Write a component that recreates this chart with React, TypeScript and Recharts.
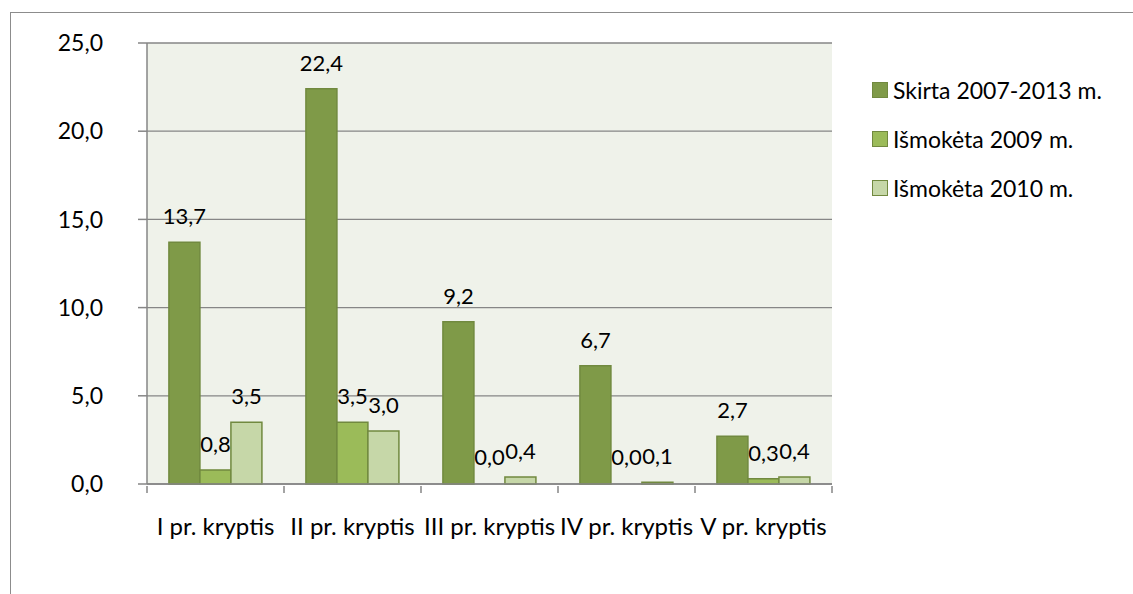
import { BarChart, Bar, XAxis, YAxis, CartesianGrid, LabelList, Rectangle } from "recharts";

const categories = ["I pr. kryptis", "II pr. kryptis", "III pr. kryptis", "IV pr. kryptis", "V pr. kryptis"];
const skirta = [13.7, 22.4, 9.2, 6.7, 2.7];
const ismoketa2009 = [0.8, 3.5, 0.0, 0.0, 0.3];
const ismoketa2010 = [3.5, 3.0, 0.4, 0.1, 0.4];
const yTicks = [0, 5, 10, 15, 20, 25];

const seriesNames = ["Skirta 2007-2013 m.", "Išmokėta 2009 m.", "Išmokėta 2010 m."];
const seriesKeys = ["skirta", "m2009", "m2010"];
const fills = ["#7f9a48", "#9bbb59", "#c6d7a8"];
const strokes = ["#71893f", "#71893f", "#71893f"];

const data = categories.map((name, i) => ({
  name,
  skirta: skirta[i],
  m2009: ismoketa2009[i],
  m2010: ismoketa2010[i],
}));

const FONT = "Lato, 'Open Sans', sans-serif";
const fmt = (v: any) => Number(v).toFixed(1).replace(".", ",");

// zero values get a label but no visible bar
const zeroAwareShape = (key: string) => (props: any) =>
  props.payload && props.payload[key] === 0 ? <g /> : <Rectangle {...props} />;

function XTick(props: any) {
  const { x, y, payload, index, visibleTicksCount } = props;
  const half = payload?.offset ?? 68.5;
  const last = index === (visibleTicksCount ?? categories.length) - 1;
  return (
    <g>
      <line x1={x - half} x2={x - half} y1={y} y2={y + 7} stroke="#868686" strokeWidth={1.5} />
      {last && <line x1={x + half} x2={x + half} y1={y} y2={y + 7} stroke="#868686" strokeWidth={1.5} />}
      <text x={x} y={y + 43} textAnchor="middle" dominantBaseline="middle" fontSize={24} fill="#000" fontFamily={FONT}>
        {payload.value}
      </text>
    </g>
  );
}

function LegendBox() {
  return (
    <div style={{ position: "absolute", left: 872, top: 65, fontFamily: FONT, fontSize: 23, color: "#000" }}>
      {seriesNames.map((n, i) => (
        <div key={n} style={{ display: "flex", alignItems: "center", height: 49, whiteSpace: "nowrap" }}>
          <span
            style={{
              display: "inline-block",
              width: 14,
              height: 14,
              background: fills[i],
              border: `1px solid ${strokes[i]}`,
              marginRight: 5,
            }}
          />
          {n}
        </div>
      ))}
    </div>
  );
}

export default function App() {
  return (
    <div style={{ position: "absolute", left: 0, top: 0, width: 1133, height: 594, background: "#fff", overflow: "hidden" }}>
      <div
        style={{
          position: "absolute",
          left: 10,
          top: 12,
          width: 1123,
          height: 582,
          borderTop: "1.5px solid #8c8c8c",
          borderLeft: "1.5px solid #8c8c8c",
        }}
      />
      <div style={{ position: "absolute", left: 0, top: 0 }}>
        <BarChart
          width={1133}
          height={594}
          data={data}
          margin={{ top: 43, right: 301, bottom: 0, left: 0 }}
          barCategoryGap="16%"
          barGap={0}
        >
          <CartesianGrid vertical={false} stroke="#868686" strokeWidth={1.3} fill="#eff2ea" />
          <XAxis
            dataKey="name"
            height={110}
            tickLine={false}
            tickSize={0}
            tick={<XTick />}
            axisLine={{ stroke: "#868686", strokeWidth: 1.5 }}
            interval={0}
          />
          <YAxis
            width={147}
            domain={[0, 25]}
            ticks={yTicks}
            tickFormatter={fmt}
            tickSize={9}
            tickMargin={35}
            tickLine={{ stroke: "#868686", strokeWidth: 1.5 }}
            axisLine={{ stroke: "#868686", strokeWidth: 1.5 }}
            tick={{ fontSize: 23, fill: "#000", fontFamily: FONT }}
          />
          {seriesKeys.map((k, i) => (
            <Bar
              key={k}
              dataKey={k}
              name={seriesNames[i]}
              fill={fills[i]}
              stroke={strokes[i]}
              strokeWidth={1.5}
              minPointSize={1}
              shape={zeroAwareShape(k)}
              isAnimationActive={false}
            >
              <LabelList dataKey={k} position="top" offset={18} formatter={fmt} fill="#000" fontSize={22} fontFamily={FONT} />
            </Bar>
          ))}
        </BarChart>
      </div>
      <LegendBox />
    </div>
  );
}
